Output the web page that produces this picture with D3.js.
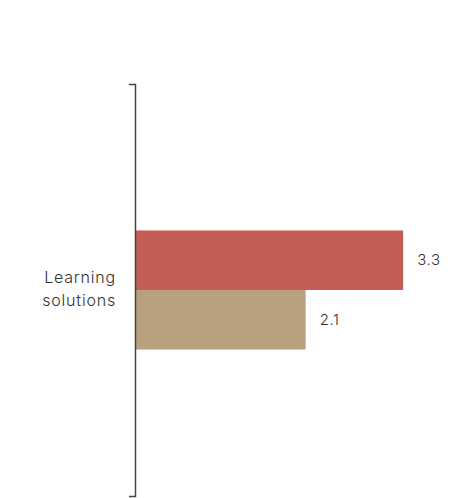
<!DOCTYPE html>
<html lang="en">
<head>
<meta charset="utf-8">
<title>Learning solutions</title>
<script src="https://d3js.org/d3.v7.min.js"></script>
<style>
  body { margin: 0; background: #fff; }
  text { font-family: Inter, "Noto Sans", sans-serif; font-weight: 300; }
</style>
</head>
<body>
<script>
// data
var categories = ["Learning solutions"];
var series = ["A", "B"];
var values = [[3.3, 2.1]];
var colors = ["#c45e55", "#b9a07e"];

var width = 466, height = 498;
var axisX = 135, axisTop = 84, axisBottom = 496;

var svg = d3.select("body").append("svg")
  .attr("width", width)
  .attr("height", height);

var x = d3.scaleLinear().domain([0, 4]).range([axisX, axisX + 325]);

var y = d3.scaleBand()
  .domain(categories)
  .range([axisTop, axisBottom])
  .paddingInner(0)
  .paddingOuter(1.23);

var ySub = d3.scaleBand()
  .domain(series)
  .range([0, y.bandwidth()]);

var groups = svg.selectAll("g.cat")
  .data(categories)
  .enter().append("g")
  .attr("class", "cat")
  .attr("transform", function(d) { return "translate(0," + y(d) + ")"; });

groups.selectAll("rect")
  .data(function(d, i) { return values[i]; })
  .enter().append("rect")
  .attr("x", x(0))
  .attr("y", function(d, j) { return ySub(series[j]); })
  .attr("width", function(d) { return x(d) - x(0); })
  .attr("height", ySub.bandwidth())
  .attr("fill", function(d, j) { return colors[j]; });

groups.selectAll("text.val")
  .data(function(d, i) { return values[i]; })
  .enter().append("text")
  .attr("class", "val")
  .attr("x", function(d) { return x(d) + 14; })
  .attr("y", function(d, j) { return ySub(series[j]) + ySub.bandwidth() / 2; })
  .attr("dy", "0.35em")
  .attr("font-size", 15)
  .attr("letter-spacing", "0.6px")
  .attr("fill", "#333")
  .text(function(d) { return d.toFixed(1); });

// y axis
var axis = svg.append("g")
  .attr("transform", "translate(" + axisX + ",0)")
  .call(d3.axisLeft(y).tickSize(0).tickSizeOuter(6).tickFormat(""));
axis.select(".domain").attr("stroke", "#444").attr("stroke-width", 1.5);

// wrapped category label
svg.selectAll("text.catlabel")
  .data(categories)
  .enter().append("text")
  .attr("class", "catlabel")
  .attr("text-anchor", "end")
  .attr("font-size", 16)
  .attr("letter-spacing", "0.8px")
  .attr("fill", "#333")
  .attr("transform", function(d) { return "translate(116," + (y(d) + y.bandwidth() / 2) + ")"; })
  .selectAll("tspan")
  .data(function(d) { return d.split(" "); })
  .enter().append("tspan")
  .attr("x", 0)
  .attr("y", function(d, i, n) { return (i - (n.length - 1) / 2) * 23 - 1; })
  .attr("dy", "0.35em")
  .text(function(d) { return d; });
</script>
</body>
</html>
